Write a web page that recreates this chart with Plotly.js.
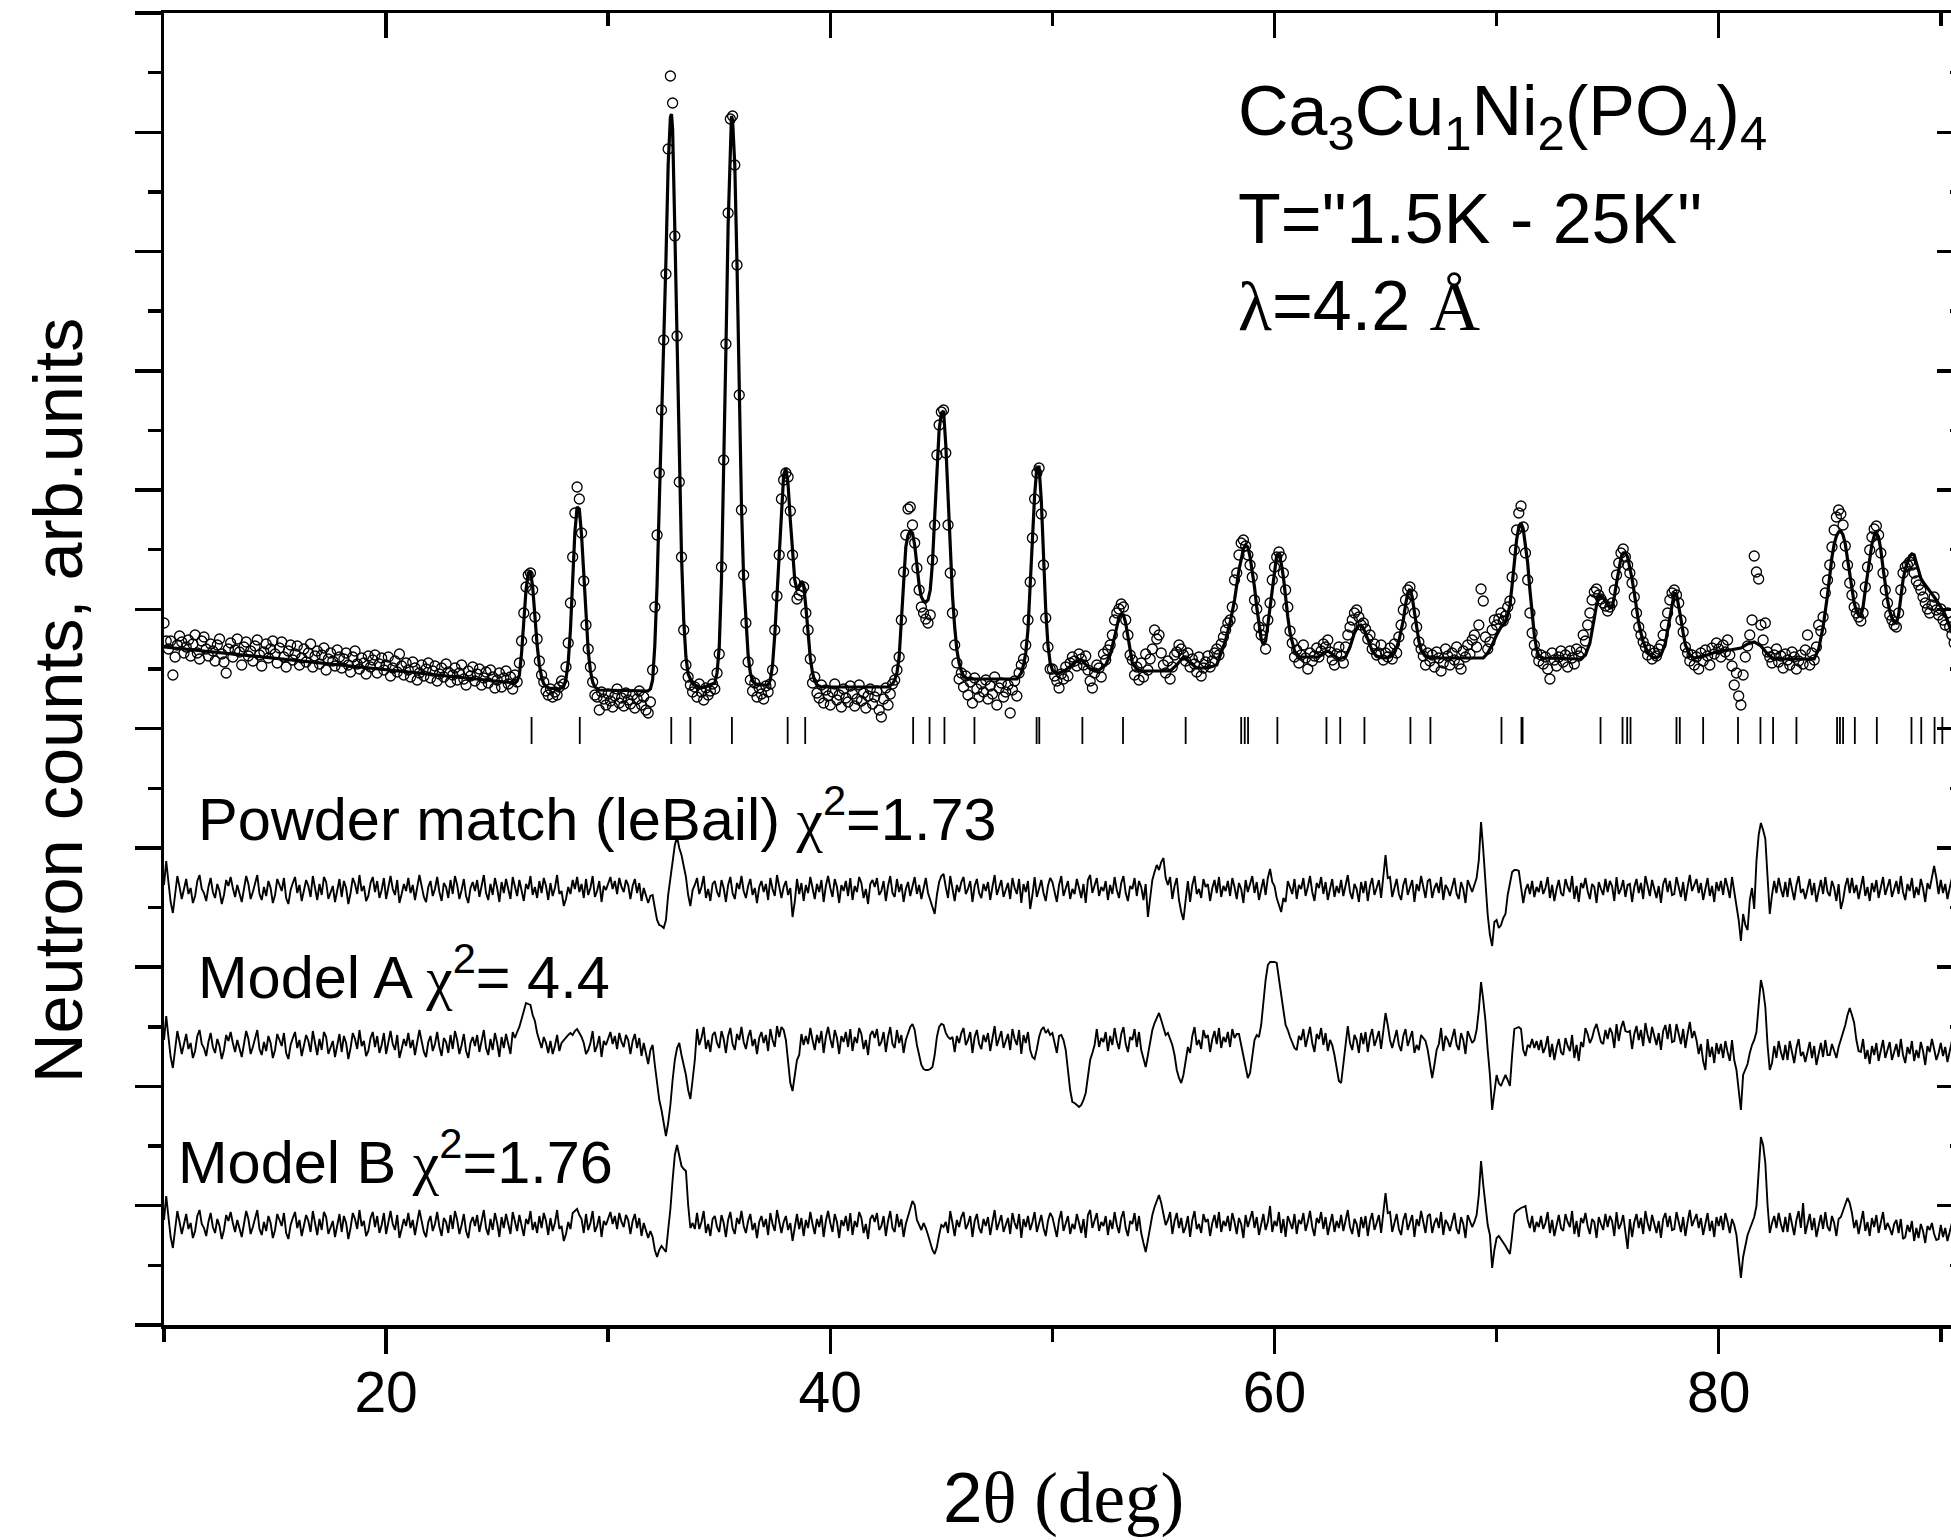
<!DOCTYPE html>
<html><head><meta charset="utf-8">
<script src="https://cdn.plot.ly/plotly-3.0.1.min.js"></script>
<style>html,body{margin:0;padding:0;overflow:hidden;background:#fff}#chart{width:1980px;height:1540px}</style>
</head><body><div id="chart"></div>
<script>
// ---------------- DATA ----------------
// 2theta scan grid of the observed pattern
const scanStart = 10.0;
const scanStep = 0.1;

// observed neutron counts (arb. units), one value per 0.1 deg from 10.0 to 90.6
const obsCounts = [
702,684,676,684,650,668,680,689,683,672,
678,685,669,681,690,672,666,684,688,676,
669,681,674,664,680,686,671,663,652,676,
682,668,675,686,673,660,678,683,669,674,
664,679,685,670,659,673,681,667,676,684,
671,662,677,683,668,658,674,680,665,671,
679,660,667,676,663,672,681,658,669,674,
661,670,677,655,666,672,664,659,675,668,
657,666,672,660,653,668,674,661,656,667,
662,651,669,658,665,670,652,661,667,655,
660,668,649,657,664,653,671,659,650,662,
655,648,663,657,645,652,660,649,656,662,
647,654,659,644,651,657,648,661,653,643,
650,657,645,652,660,646,640,654,649,658,
644,651,656,640,647,653,642,655,648,637,
645,652,638,647,654,641,648,636,650,643,
662,684,712,738,750,752,735,708,686,664,
650,643,634,630,636,628,633,630,638,644,
641,658,682,722,768,812,838,826,792,744,
700,676,658,643,630,628,615,633,626,620,
631,624,618,629,636,622,627,619,632,625,
621,630,617,626,634,620,628,615,612,623,
655,718,790,852,915,985,1051,1176,1249,1222,
1089,989,843,768,695,660,648,640,633,638,
628,641,633,625,637,630,634,641,636,652,
671,758,865,981,1112,1206,1209,1160,1060,930,
815,750,702,663,645,634,642,628,637,631,
626,639,633,641,655,695,729,770,826,845,
852,848,814,770,743,726,730,734,738,712,
695,666,642,648,632,627,640,622,635,629,
620,633,641,625,630,618,636,627,623,639,
631,619,626,640,624,632,617,629,636,621,
628,634,615,608,626,637,620,631,641,645,
655,668,705,753,790,816,818,800,782,757,
735,718,712,706,702,710,765,800,870,900,
913,915,872,800,752,712,680,662,646,652,
638,649,630,643,622,647,636,628,641,633,
645,626,639,631,648,620,637,642,628,633,
640,612,635,644,629,652,660,666,680,705,
743,787,826,852,857,811,760,707,678,656,
656,649,644,637,651,646,658,649,662,668,
664,659,671,666,660,669,655,644,637,652,
660,657,648,671,665,675,680,690,705,712,
716,721,718,705,690,670,665,650,658,645,
662,648,671,655,666,676,695,686,690,672,
660,652,664,646,658,670,673,680,676,670,
664,672,658,666,661,653,668,649,657,663,
669,658,664,672,676,670,681,688,695,702,
705,718,745,752,770,782,785,779,770,760,
748,725,716,698,690,695,676,705,722,745,
758,768,773,768,752,735,718,694,682,668,
675,662,670,680,667,656,672,664,669,677,
668,674,681,678,685,673,665,660,671,678,
669,662,678,690,698,705,712,715,708,700,
702,696,686,690,676,681,670,672,680,665,
672,668,677,666,681,672,688,700,715,725,
735,738,730,712,698,683,676,669,660,672,
664,670,658,673,667,654,662,676,669,660,
672,665,678,661,656,674,668,680,671,685,
690,678,700,736,724,688,676,683,695,705,
700,706,712,704,709,718,724,748,775,795,
812,819,798,772,745,712,692,680,672,664,
670,661,668,656,646,672,665,659,668,674,
663,670,658,674,667,661,676,669,673,690,
684,700,712,725,733,736,730,726,722,719,
714,718,722,735,750,762,772,776,768,760,
752,742,728,712,698,690,683,678,670,675,
666,672,669,676,680,690,700,712,725,732,
735,730,722,705,693,678,672,664,670,660,
668,656,672,664,675,669,660,677,671,682,
676,668,680,673,685,670,659,640,652,629,
620,650,668,679,690,705,769,753,746,700,
685,702,673,668,662,670,676,663,669,657,
671,665,660,673,668,656,664,670,661,675,
690,660,672,665,678,700,694,708,732,745,
760,778,795,808,815,811,800,779,760,742,
730,718,712,708,704,712,738,758,775,788,
796,799,790,772,752,735,722,710,705,700,
698,712,735,752,758,760,763,760,752,744,
740,735,728,722,716,712,720,728,715,710,
716,705,700,712,698,690,682
];

// calculated (fitted) profile: [2theta, counts]
const calcProfile = [
[10.0,678],[25.8,642],[25.9,644],
[26.0,650],[26.1,672],[26.2,705],[26.3,735],[26.4,752],[26.5,754],[26.6,738],[26.7,708],[26.8,680],[26.9,660],[27.0,648],[27.1,641],[27.3,637],[27.8,636],
[28.0,639],[28.1,646],[28.2,663],[28.3,695],[28.4,745],[28.5,793],[28.6,818],[28.7,816],[28.8,790],[28.9,748],[29.0,706],[29.1,674],[29.2,654],[29.3,643],[29.4,638],[29.6,635],[31.8,634],[31.9,636],
[32.0,645],[32.1,680],[32.2,740],[32.3,815],[32.4,895],[32.5,975],[32.6,1065],[32.7,1160],[32.8,1208],[32.85,1211],[32.9,1196],[33.0,1095],[33.1,985],[33.2,860],[33.3,770],[33.4,705],[33.5,668],[33.6,651],[33.8,641],[34.2,637],[34.8,642],[34.9,652],
[35.0,678],[35.1,745],[35.2,850],[35.3,975],[35.4,1100],[35.5,1190],[35.55,1209],[35.6,1205],[35.7,1160],[35.8,1060],[35.9,935],[36.0,820],[36.1,745],[36.2,700],[36.3,670],[36.4,652],[36.5,644],[36.7,640],[37.2,640],
[37.3,645],[37.4,660],[37.5,690],[37.6,730],[37.7,778],[37.8,822],[37.9,850],[38.0,857],[38.1,840],[38.2,805],[38.3,770],[38.4,745],[38.5,735],[38.6,738],[38.7,744],[38.8,740],[38.9,718],[39.0,690],[39.1,667],[39.2,652],[39.3,644],[39.4,640],[39.6,638],[42.6,638],[42.8,641],
[42.9,645],[43.0,652],[43.1,668],[43.2,705],[43.3,748],[43.4,778],[43.5,790],[43.6,794],[43.7,792],[43.8,780],[43.9,760],[44.0,740],[44.1,728],[44.2,724],[44.3,723],[44.4,725],[44.5,735],[44.6,762],[44.7,808],[44.8,855],[44.9,895],[45.0,912],[45.1,914],[45.2,880],[45.3,830],[45.4,775],[45.5,730],[45.6,698],[45.7,675],[45.8,662],[45.9,654],[46.0,649],[46.2,646],[48.4,646],[48.6,652],
[48.7,660],[48.8,672],[48.9,695],[49.0,735],[49.1,785],[49.2,830],[49.3,858],[49.4,858],[49.5,825],[49.6,770],[49.7,715],[49.8,680],[49.9,662],[50.0,655],[50.2,651],[50.6,655],[50.9,660],[51.1,664],[51.3,665],[51.5,660],[51.7,656],[51.9,654],[52.1,655],[52.4,660],[52.6,670],[52.8,688],[52.9,700],[53.0,708],[53.1,711],[53.2,710],[53.3,702],[53.4,688],[53.5,673],[53.6,662],[53.8,656],[54.0,654],[55.3,654],[55.6,660],[55.9,668],[56.2,662],[56.5,657],[57.0,657],[57.4,660],[57.6,672],[57.8,685],
[58.0,702],[58.2,725],[58.4,755],[58.6,776],[58.7,780],[58.8,778],[58.9,768],[59.0,755],[59.1,738],[59.2,718],[59.3,700],[59.4,686],[59.5,680],[59.6,684],[59.7,700],[59.8,718],[59.9,740],[60.0,758],[60.1,770],[60.2,771],[60.3,762],[60.4,748],[60.5,726],[60.6,708],[60.7,692],[60.8,681],[60.9,674],[61.1,668],[62.0,668],[62.2,672],[62.4,674],[62.6,671],[62.9,666],[63.2,668],[63.4,678],[63.6,692],[63.8,700],[63.9,700],[64.0,697],[64.2,686],[64.4,674],[64.6,669],[64.9,667],[65.2,668],[65.4,672],[65.6,684],[65.8,705],[65.9,720],[66.0,732],[66.1,736],[66.2,728],[66.3,713],[66.4,697],[66.5,684],[66.6,675],[66.8,669],[67.0,667],[69.4,667],[69.6,672],[69.8,680],
[70.0,690],[70.2,698],[70.3,700],[70.4,703],[70.5,710],[70.6,720],[70.7,740],[70.8,762],[70.9,785],[71.0,798],[71.1,802],[71.2,796],[71.3,780],[71.4,762],[71.5,735],[71.6,710],[71.7,690],[71.8,676],[71.9,669],[72.1,667],[73.8,666],
[74.0,670],[74.2,682],[74.4,707],[74.5,720],[74.6,728],[74.7,729],[74.8,727],[74.9,724],[75.0,720],[75.1,717],[75.2,718],[75.3,728],[75.4,742],[75.5,756],[75.6,767],[75.7,772],[75.8,772],[75.9,768],[76.0,758],[76.1,746],[76.2,732],[76.3,716],[76.4,702],[76.5,692],[76.6,683],[76.8,673],[77.0,668],[77.2,667],
[77.4,670],[77.6,682],[77.7,695],[77.8,710],[77.9,722],[78.0,732],[78.1,731],[78.2,720],[78.3,706],[78.4,692],[78.5,680],[78.7,670],[78.9,667],[79.5,670],[80.0,674],[80.5,675],[81.0,677],[81.3,681],[81.6,683],[81.9,679],[82.2,671],[82.5,666],[84.3,666],[84.5,676],[84.7,698],[84.9,730],
[85.0,752],[85.1,768],[85.2,781],[85.3,789],[85.4,793],[85.5,794],[85.6,790],[85.7,781],[85.8,766],[85.9,750],[86.0,734],[86.1,722],[86.2,714],[86.3,710],[86.4,709],[86.5,718],[86.6,735],[86.7,752],[86.8,768],[86.9,781],[87.0,789],[87.1,792],[87.2,788],[87.3,775],[87.4,757],[87.5,740],[87.6,725],[87.7,714],[87.8,707],[87.9,703],[88.0,702],[88.1,710],[88.2,728],[88.3,745],[88.4,756],[88.5,764],[88.6,769],[88.7,771],[88.8,770],[88.9,762],[89.0,753],[89.1,747],[89.2,743],[89.3,740],[89.4,737],[89.5,735],[89.6,731],[89.8,725],[90.0,718],[90.2,710],[90.4,698],[90.6,688]
];

// Bragg reflection positions (2theta)
const braggPositions = [26.55,28.72,32.84,33.70,35.57,38.08,38.87,43.73,44.47,45.14,46.49,49.29,49.41,51.35,53.18,56.0,58.50,58.66,58.81,60.13,62.34,62.96,64.05,66.12,67.02,70.22,71.12,71.17,74.68,75.67,75.88,76.03,78.10,78.25,79.30,80.87,81.88,82.45,83.50,85.33,85.46,85.60,86.13,87.12,88.68,89.12,89.72,90.07];

// difference curves (obs - calc), same 0.1-deg grid as obsCounts
const diffLeBail = [
5,29,8,-12,-23,-5,14,3,-9,1,
11,-4,2,-13,-6,9,15,1,-3,-11,
3,12,-2,-8,6,-1,-14,-5,10,4,
13,2,-7,5,-3,-12,1,14,6,-9,
-2,8,15,-4,-10,3,-6,9,2,-13,
-5,11,4,-1,12,-8,-14,0,7,13,
-3,5,-11,-2,10,4,-7,14,3,-10,
6,-5,13,8,-9,-2,4,-12,1,11,
-7,9,2,-14,-3,12,6,-4,15,-1,
4,-11,-6,7,13,-2,9,-8,0,12,
-9,3,14,1,-5,10,-13,-4,6,-1,
12,-3,5,-10,2,15,4,-7,-12,3,
9,-6,1,13,-2,-11,7,3,-8,10,
-4,14,5,-9,0,11,-6,-13,2,8,
-1,10,-7,4,15,-3,-10,6,-5,12,
2,-12,8,-3,11,1,-9,13,4,-6,
10,-2,-11,6,1,14,-5,3,-8,9,
-3,12,4,-10,7,-6,2,15,-4,-1,
-16,-9,3,-4,10,1,13,-2,6,-8,
11,-5,2,14,-7,-1,9,-12,4,0,
6,13,1,9,-4,12,3,-2,10,5,
-9,4,11,-3,7,-11,2,-5,-13,-6,
-5,-18,-30,-35,-36,-38,-30,-5,13,30,
45,53,42,35,22,13,-5,-16,0,5,
12,-4,3,14,-8,1,-11,6,9,-2,
-7,10,2,-12,5,13,-3,-9,7,1,
14,-1,-8,4,11,-5,2,-13,3,9,
-2,6,-10,12,1,-6,15,4,-8,3,
9,-5,2,-27,-12,11,-4,7,-11,5,
-3,13,1,-9,6,-2,10,-12,4,14,
2,-7,11,3,-13,5,-1,9,-6,12,
-10,4,-2,13,7,-8,1,-14,6,10,
3,12,-5,-1,9,-11,4,14,-3,-7,
11,-2,6,-12,1,8,-6,3,13,-4,
5,-9,2,12,-3,-10,-18,-24,-5,8,
14,16,3,-8,14,2,-11,5,-2,8,
13,-4,1,9,-12,4,11,-3,-8,6,
-1,8,-10,3,15,-5,2,10,-7,1,
7,-9,12,2,-4,11,-13,6,-2,9,
-19,-5,13,-7,1,10,-3,-11,4,12,
8,-2,-12,5,14,-6,3,9,-9,1,
-4,11,2,-8,6,-13,10,15,-3,4,
12,-6,3,-1,9,-10,5,-4,13,0,
-8,7,14,-3,-11,4,1,12,-6,9,
3,-10,6,-27,-8,10,18,25,20,28,
32,12,5,13,-9,4,12,-10,-22,-30,
-10,9,-12,5,14,-4,1,-8,11,3,
6,-11,2,10,-3,13,-7,4,-1,9,
-6,12,3,-9,7,1,-13,10,-2,5,
14,-3,8,-10,2,11,-5,12,21,8,
4,-8,-15,-22,-8,-12,9,2,-4,11,
-9,5,1,12,-6,3,14,-2,-11,7,
2,13,-4,8,-10,1,11,-7,4,-3,
10,-6,3,15,-2,-9,6,1,-12,8,
-3,9,-11,4,12,-5,2,10,-8,15,
35,12,13,-7,1,11,-4,-10,5,12,
-5,4,10,-12,6,-1,14,3,-8,9,
11,-8,2,7,-3,13,-10,5,1,-6,
3,12,-4,-9,8,1,-13,10,4,-2,
5,12,30,68,40,5,-25,-45,-56,-32,
-30,-38,-35,-28,-24,-5,8,18,20,20,
19,5,-13,0,6,-4,9,-7,3,-2,
9,-4,2,13,-8,5,-11,1,10,-3,
-6,11,3,-2,14,-9,4,-12,7,2,
12,-1,-9,6,3,-13,8,1,-5,11,
-2,9,4,-11,13,-4,1,10,-7,5,
6,-12,3,11,-3,7,-9,14,2,-6,
10,1,-8,4,-13,6,12,-2,9,-5,
-4,13,2,-7,8,-11,3,15,-1,6,
11,-3,7,-10,1,12,-6,4,-12,8,
-1,9,-5,12,3,-8,13,0,-13,-30,
-51,-24,-35,-40,-10,2,-19,29,55,67,
60,51,13,-24,-5,9,-3,12,1,-7,
8,-7,12,2,-10,5,14,-3,1,-9,
3,11,-5,7,-12,1,10,-4,13,-2,
-6,9,2,-11,6,-19,-10,4,12,-3,
12,-3,5,-9,1,14,-6,3,-11,7,
-2,10,-8,4,13,-5,2,11,-7,1,
9,-4,14,-2,-10,6,-1,12,-8,3,
-5,11,2,-12,7,1,14,24,12,-4,
10,-3,6,-9,2,12,-5
];

const diffModelA = [
5,29,8,-12,-23,-5,14,3,-9,1,
11,-4,2,-13,-6,9,15,1,-3,-11,
3,12,-2,-8,6,-1,-14,-5,10,4,
13,2,-7,5,-3,-12,1,14,6,-9,
-2,8,15,-4,-10,3,-6,9,2,-13,
-5,11,4,-1,12,-8,-14,0,7,13,
-3,5,-11,-2,10,4,-7,14,3,-10,
6,-5,13,8,-9,-2,4,-12,1,11,
-7,9,2,-14,-3,12,6,-4,15,-1,
4,-11,-6,7,13,-2,9,-8,0,12,
-9,3,14,1,-5,10,-13,-4,6,-1,
12,-3,5,-10,2,15,4,-7,-12,3,
9,-6,1,13,-2,-11,7,3,-8,10,
-4,14,5,-9,0,11,-6,-13,2,8,
-1,10,-7,4,15,-3,-10,6,-5,12,
2,-12,8,-3,11,1,-9,13,7,13,
18,26,35,42,41,40,30,24,12,4,
-3,8,2,-8,4,-9,-1,10,-6,2,
5,8,10,12,10,14,16,12,8,2,
-9,-5,2,14,-7,-1,9,-12,4,0,
6,13,1,9,-4,12,3,-2,10,5,
-9,4,11,-3,7,-11,2,-8,-19,-5,
0,-20,-41,-55,-65,-80,-91,-78,-60,-35,
-15,-3,2,-10,-20,-30,-45,-54,-35,-15,
16,0,7,18,-4,5,-7,10,13,2,
-3,14,6,-8,9,17,1,-5,11,5,
18,3,-4,8,15,-1,6,-9,7,13,
2,10,-6,16,5,-2,19,8,18,15,
5,-20,-38,-46,-30,-15,-10,11,0,9,
1,17,5,-5,10,2,14,-8,8,18,
6,-3,15,7,-9,9,3,13,-2,16,
-6,8,2,17,11,-4,5,-10,10,14,
7,16,-1,3,13,-7,8,18,1,-3,
15,2,10,-8,5,12,18,21,15,0,
-12,-20,-24,-25,-25,-24,-22,-10,8,18,
21,20,12,8,6,8,-7,9,2,12,
17,0,5,13,-8,8,15,1,-4,10,
3,12,-6,7,19,-1,6,14,-3,5,
11,-5,16,6,0,15,-9,10,2,13,
-5,-12,-14,-4,8,15,18,12,15,10,
12,2,-8,9,10,5,-5,-25,-45,-57,
-58,-60,-62,-60,-55,-48,-30,-15,-8,0,
16,-2,7,3,13,-6,9,0,17,4,
-4,11,18,1,-7,8,5,16,-2,13,
-5,-15,-22,-10,5,15,22,28,32,25,
18,10,12,5,0,-10,-25,-33,-38,-30,
-15,-2,-8,9,18,0,5,-4,15,7,
10,-7,6,14,1,17,-3,8,3,13,
-2,16,7,11,11,0,-12,-25,-33,-28,
-10,5,10,8,20,45,65,80,83,83,
83,82,65,48,35,20,15,8,2,-3,
-5,9,5,16,-2,7,18,2,-7,11,
6,17,0,12,-6,5,0,-10,-25,-36,
-38,-20,-5,19,2,-5,10,5,-8,12,
1,13,-7,8,16,-1,6,14,-4,15,
32,20,5,-3,5,15,0,-6,9,16,
-1,8,14,-8,0,-5,10,7,4,-5,
-20,-33,-20,-5,1,17,-6,9,5,-2,
7,16,0,-5,12,5,-9,14,8,2,
5,15,35,63,45,24,-5,-30,-65,-45,
-30,-38,-41,-35,-30,-35,-41,-10,16,17,
18,16,-5,-11,0,-2,6,-3,4,-5,
5,-8,-2,9,-12,1,-15,-3,6,-7,
-10,7,-1,-6,10,-13,0,-16,3,-2,
17,11,2,7,16,21,13,3,1,15,
6,17,12,-3,21,4,17,24,14,13,
14,-4,11,19,5,15,-1,22,10,2,
18,9,0,12,-5,14,20,6,21,3,
4,21,10,1,16,-3,11,23,7,14,
5,-9,1,-16,-25,6,-12,-2,-18,2,
-9,1,-13,4,-7,-16,5,-15,-25,-45,
-65,-30,-25,-19,-8,0,5,13,40,65,
55,38,0,-25,-18,-1,-13,4,-7,-15,
0,-15,4,-6,-18,-3,6,-11,-7,-17,
-5,3,-13,-1,-20,-7,2,-12,5,-10,
-10,1,-6,-13,-2,5,12,20,30,37,
30,22,5,-6,-7,6,-14,-5,-19,-1,
-10,2,-16,-4,5,-13,-6,3,-15,-7,
1,-12,6,-10,-18,-2,-9,4,-16,-5,
-13,3,-6,-20,-1,-7,6,-4,-15,-8,
2,-11,-2,-17,-6,4,-13
];

const diffModelB = [
5,29,8,-12,-23,-5,14,3,-9,1,
11,-4,2,-13,-6,9,15,1,-3,-11,
3,12,-2,-8,6,-1,-14,-5,10,4,
13,2,-7,5,-3,-12,1,14,6,-9,
-2,8,15,-4,-10,3,-6,9,2,-13,
-5,11,4,-1,12,-8,-14,0,7,13,
-3,5,-11,-2,10,4,-7,14,3,-10,
6,-5,13,8,-9,-2,4,-12,1,11,
-7,9,2,-14,-3,12,6,-4,15,-1,
4,-11,-6,7,13,-2,9,-8,0,12,
-9,3,14,1,-5,10,-13,-4,6,-1,
12,-3,5,-10,2,15,4,-7,-12,3,
9,-6,1,13,-2,-11,7,3,-8,10,
-4,14,5,-9,0,11,-6,-13,2,8,
-1,10,-7,4,15,-3,-10,6,-5,12,
2,-12,8,-3,11,1,-9,13,4,-6,
10,-2,-11,6,1,14,-5,3,-8,9,
-3,12,4,-10,7,-6,2,15,-4,-1,
-16,-9,3,-4,12,14,16,10,6,-8,
11,-5,2,14,-7,-1,9,-12,4,0,
6,13,1,9,-4,12,3,-2,10,5,
-9,4,11,-3,7,-11,2,-5,-13,-6,
-12,-25,-32,-25,-21,-24,-27,-5,16,45,
70,80,70,59,56,54,20,-3,2,-4,
12,-4,3,14,-8,1,-11,6,9,-2,
-7,10,2,-12,5,13,-3,-9,7,1,
14,-1,-8,4,11,-5,2,-13,3,9,
-2,6,-10,12,1,-6,15,4,-8,3,
9,-5,2,-16,-1,11,-4,7,-11,5,
-3,13,1,-9,6,-2,10,-12,4,14,
2,-7,11,3,-13,5,-1,9,-6,12,
-10,4,-2,13,7,-8,1,-14,6,10,
3,12,-5,-1,9,-11,4,14,-3,-7,
11,-2,6,-12,1,8,15,24,20,5,
0,-5,2,-3,-10,-18,-25,-29,-22,-10,
0,-2,3,-8,14,2,-11,5,-2,8,
13,-4,1,9,-12,4,11,-3,-8,6,
-1,8,-10,3,15,-5,2,10,-7,1,
7,-9,12,2,-4,11,-13,6,-2,9,
-5,3,13,-7,1,10,-3,-11,4,12,
8,-2,-12,5,14,-6,3,9,-9,1,
-4,11,2,-8,6,-13,10,15,-3,4,
12,-6,3,-1,9,-10,5,-4,13,0,
-8,7,14,-3,-11,4,1,12,-6,9,
-8,-18,-27,-15,0,10,18,25,30,22,
10,0,5,13,-9,4,12,-3,7,-8,
-2,9,-12,5,14,-4,1,-8,11,3,
6,-11,2,10,-3,13,-7,4,-1,9,
-6,12,3,-9,7,1,-13,10,-2,5,
14,-3,8,-10,2,11,-5,3,19,-7,
4,-1,13,-8,6,-12,9,2,-4,11,
-9,5,1,12,-6,3,14,-2,-11,7,
2,13,-4,8,-10,1,11,-7,4,-3,
10,-6,3,15,-2,-9,6,1,-12,8,
-3,9,-11,4,12,-5,2,10,-8,15,
32,12,13,-7,1,11,-4,-10,5,12,
-5,4,10,-12,6,-1,14,3,-8,9,
11,-8,2,7,-3,13,-10,5,1,-6,
3,12,-4,-9,8,1,-13,10,4,-2,
3,10,30,64,40,16,0,-10,-43,-25,
-13,-11,-14,-18,-21,-25,-29,-10,11,14,
16,17,18,19,5,-3,9,-7,3,-2,
9,-4,2,13,-8,5,-11,1,10,-3,
-6,11,3,-2,14,-9,4,-12,7,2,
12,-1,-9,6,3,-13,8,1,-5,11,
-2,9,4,-11,13,-4,1,10,-7,-24,
6,-12,3,11,-3,7,-9,14,2,-6,
10,1,-8,4,-13,6,12,-2,9,-5,
-4,13,2,-7,8,-11,3,15,-1,6,
11,-3,7,-10,1,12,-6,4,-12,8,
-1,9,-5,12,3,-8,6,0,-10,-30,
-53,-32,-20,-10,-4,3,8,19,60,88,
80,62,20,-8,2,9,-3,12,1,-7,
8,-7,12,2,-10,5,14,-3,22,-9,
3,11,-5,7,-12,1,10,-4,13,-2,
-6,9,2,-11,6,8,15,20,27,22,
12,-3,5,-9,1,14,-6,3,-11,7,
-2,10,-8,4,13,-5,2,-3,-10,1,
5,-8,6,-14,-12,0,-7,4,-16,-3,
-13,1,-6,-18,-1,-5,2,-9,-15,-14,
0,-12,-3,-16,-6,2,-14
];

const xTickValues = [20, 40, 60, 80];
const xTickText = ['20', '40', '60', '80'];
const xMinorTickValues = [10, 30, 50, 70, 90];

const SERIF_SPAN = '<span style="font-family:\'Liberation Serif\',\'Times New Roman\',serif">';
const labelFormula = 'Ca<sub>3</sub>Cu<sub>1</sub>Ni<sub>2</sub>(PO<sub>4</sub>)<sub>4</sub>';
const labelTemp = 'T="1.5K - 25K"';
const labelLambda = SERIF_SPAN + 'λ</span>=4.2 ' + SERIF_SPAN + 'Å</span>';
const labelLeBail = 'Powder match (leBail) ' + SERIF_SPAN + 'χ</span><sup>2</sup>=1.73';
const labelModelA = 'Model A ' + SERIF_SPAN + 'χ</span><sup>2</sup>= 4.4';
const labelModelB = 'Model B ' + SERIF_SPAN + 'χ</span><sup>2</sup>=1.76';
const yTitle = 'Neutron counts, arb.units';
const xTitle = '2' + SERIF_SPAN + 'θ (deg)</span>';

// ---------------- LAYOUT / STYLE ----------------
const W = 1980, H = 1540;
const M = {l: 164, r: 17, t: 13, b: 215};
const plotW = W - M.l - M.r, plotH = H - M.t - M.b;
const xRange = [10, 91];
const yRange = [0, 1312];
const offLeBail = 435, offModelA = 280, offModelB = 100;
const braggLow = 581, braggHigh = 608;
const PX = px => (px - M.l) / plotW;
const PY = py => (H - M.b - py) / plotH;

const SANS = 'Liberation Sans, Arial, sans-serif';

const lens = {obsCounts: obsCounts.length, diffLeBail: diffLeBail.length, diffModelA: diffModelA.length, diffModelB: diffModelB.length};
Object.keys(lens).forEach(n => { if (lens[n] !== 807) throw new Error(n + ' length ' + lens[n]); });

const grid = obsCounts.map((_, i) => +(scanStart + i * scanStep).toFixed(2));
const calcX = calcProfile.map(p => p[0]);
const calcY = calcProfile.map(p => p[1]);
const bx = [], by = [];
braggPositions.forEach(p => { bx.push(p, p, null); by.push(braggLow, braggHigh, null); });

const diffLine = {color: '#000', width: 1.9};
const traces = [
  {x: grid, y: obsCounts, mode: 'markers', type: 'scatter', showlegend: false, hoverinfo: 'skip',
   marker: {symbol: 'circle-open', size: 10, color: '#000', line: {width: 1.3, color: '#000'}}},
  {x: calcX, y: calcY, mode: 'lines', type: 'scatter', showlegend: false, hoverinfo: 'skip',
   line: {color: '#000', width: 3.2}},
  {x: bx, y: by, mode: 'lines', type: 'scatter', showlegend: false, hoverinfo: 'skip',
   line: {color: '#000', width: 1.8}},
  {x: grid, y: diffLeBail.map(v => v + offLeBail), mode: 'lines', type: 'scatter', showlegend: false, hoverinfo: 'skip', line: diffLine},
  {x: grid, y: diffModelA.map(v => v + offModelA), mode: 'lines', type: 'scatter', showlegend: false, hoverinfo: 'skip', line: diffLine},
  {x: grid, y: diffModelB.map(v => v + offModelB), mode: 'lines', type: 'scatter', showlegend: false, hoverinfo: 'skip', line: diffLine},
  {x: [null], y: [null], xaxis: 'x2', yaxis: 'y2', mode: 'markers', showlegend: false, hoverinfo: 'skip'}
];

const yStep = yRange[1] / 11;
const yMajor = [], yMinor = [];
for (let k = 0; k <= 11; k++) yMajor.push(k * yStep);
for (let k = 0; k < 11; k++) yMinor.push((k + 0.5) * yStep);

const axCommon = {showgrid: false, zeroline: false, showline: true, linecolor: '#000', linewidth: 3.5,
  tickcolor: '#000', tickwidth: 3.5, ticklen: 25};

const layout = {
  width: W, height: H, margin: M, paper_bgcolor: '#fff', plot_bgcolor: 'rgba(0,0,0,0)',
  font: {family: SANS, color: '#000'},
  xaxis: Object.assign({}, axCommon, {range: xRange, ticks: 'outside', tickmode: 'array', tickvals: xTickValues, ticktext: xTickText,
    tickfont: {family: SANS, size: 57, color: '#000'}, anchor: 'y', ticklabelstandoff: -10,
    minor: {tickmode: 'array', tickvals: xMinorTickValues, ticks: 'outside', ticklen: 13, tickwidth: 3.5, tickcolor: '#000'}}),
  xaxis2: Object.assign({}, axCommon, {range: xRange, overlaying: 'x', side: 'top', anchor: 'y', ticks: 'inside', tickmode: 'array',
    tickvals: xTickValues, showticklabels: false,
    minor: {tickmode: 'array', tickvals: xMinorTickValues, ticks: 'inside', ticklen: 13, tickwidth: 3.5, tickcolor: '#000'}}),
  yaxis: Object.assign({}, axCommon, {range: yRange, ticks: 'outside', ticklen: 26, tickmode: 'array', tickvals: yMajor, showticklabels: false, anchor: 'x',
    minor: {tickmode: 'array', tickvals: yMinor, ticks: 'outside', ticklen: 13, tickwidth: 3.5, tickcolor: '#000'}}),
  yaxis2: Object.assign({}, axCommon, {range: yRange, overlaying: 'y', side: 'right', anchor: 'x', ticks: 'inside', ticklen: 26, tickmode: 'array', tickvals: yMajor, showticklabels: false,
    minor: {tickmode: 'array', tickvals: yMinor, ticks: 'inside', ticklen: 13, tickwidth: 3.5, tickcolor: '#000'}}),
  annotations: [
    {text: labelFormula, xref: 'paper', yref: 'paper', x: PX(1236), y: PY(70), xanchor: 'left', yanchor: 'top', showarrow: false, font: {family: SANS, size: 70}},
    {text: labelTemp, xref: 'paper', yref: 'paper', x: PX(1236), y: PY(178), xanchor: 'left', yanchor: 'top', showarrow: false, font: {family: SANS, size: 70}},
    {text: labelLambda, xref: 'paper', yref: 'paper', x: PX(1236), y: PY(265), xanchor: 'left', yanchor: 'top', showarrow: false, font: {family: SANS, size: 70}},
    {text: labelLeBail, xref: 'paper', yref: 'paper', x: PX(196), y: PY(855), xanchor: 'left', yanchor: 'bottom', showarrow: false, font: {family: SANS, size: 59.5}},
    {text: labelModelA, xref: 'paper', yref: 'paper', x: PX(196), y: PY(1013), xanchor: 'left', yanchor: 'bottom', showarrow: false, font: {family: SANS, size: 59.5}},
    {text: labelModelB, xref: 'paper', yref: 'paper', x: PX(176), y: PY(1198), xanchor: 'left', yanchor: 'bottom', showarrow: false, font: {family: SANS, size: 59.5}},
    {text: yTitle, xref: 'paper', yref: 'paper', x: PX(58), y: PY(701), xanchor: 'center', yanchor: 'middle', textangle: -90, showarrow: false, font: {family: SANS, size: 68.5}},
    {text: xTitle, xref: 'paper', yref: 'paper', x: PX(1063), y: PY(1456), xanchor: 'center', yanchor: 'top', showarrow: false, font: {family: SANS, size: 71}}
  ]
};

Plotly.newPlot('chart', traces, layout, {staticPlot: true, displayModeBar: false});
</script></body></html>
